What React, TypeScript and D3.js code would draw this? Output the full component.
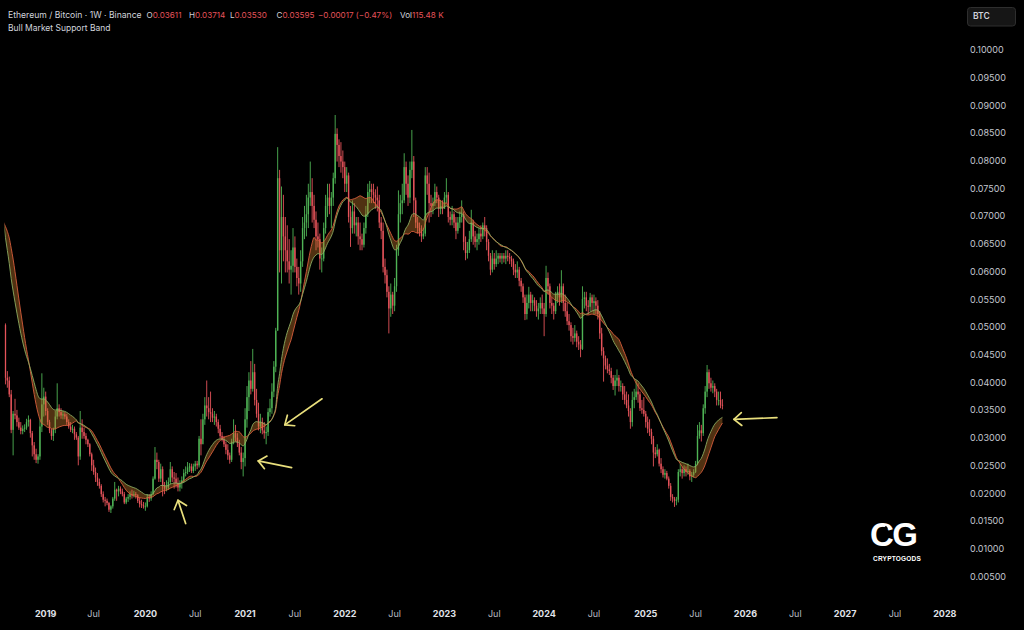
import React from 'react';
import * as d3 from 'd3';

// ---------- DATA ----------
// Weekly closes before the first drawn candle (weeks from 2018-01-01), used only for the band
const preCloses = [
  0.0790, 0.0950, 0.0935, 0.0970, 0.1010, 0.0975, 0.0915, 0.0855, 0.0800, 0.0760,
  0.0650, 0.0600, 0.0570, 0.0580, 0.0620, 0.0680, 0.0740, 0.0800, 0.0820, 0.0810,
  0.0790, 0.0780, 0.0775, 0.0750, 0.0720, 0.0725, 0.0710, 0.0680, 0.0630, 0.0575,
  0.0555, 0.0505,
];
const PRE_START = '2018-01-01';

// Weekly candles [high, low, close]; open = previous week's close. First candle: 2018-08-13
const w2018 = [
  [.0508,.0398,.0410],[.0422,.0392,.0405],[.0412,.0375,.0380],[.0388,.0310,.0316],[.0350,.0270,.0345],
  [.0372,.0335,.0342],[.0352,.0322,.0330],[.0338,.0316,.0320],[.0330,.0308,.0314],[.0324,.0308,.0318],
  [.0326,.0312,.0320],[.0336,.0316,.0330],[.0342,.0322,.0334],[.0336,.0302,.0310],[.0314,.0268,.0288],
  [.0294,.0262,.0272],[.0282,.0256,.0262],[.0272,.0255,.0268],[.0335,.0262,.0322],[.0418,.0312,.0362],
  [.0392,.0340,.0376],
];
const w2019 = [
  [.0385,.0342,.0350],[.0355,.0325,.0330],[.0334,.0310,.0315],[.0318,.0298,.0305],[.0320,.0296,.0318],
  [.0350,.0310,.0340],[.0400,.0335,.0355],[.0362,.0340,.0348],[.0355,.0336,.0342],[.0350,.0335,.0344],
  [.0348,.0335,.0340],[.0345,.0325,.0330],[.0335,.0318,.0322],[.0330,.0312,.0316],[.0325,.0310,.0318],
  [.0322,.0298,.0308],[.0312,.0298,.0302],[.0305,.0252,.0268],[.0350,.0262,.0320],[.0335,.0300,.0312],
  [.0320,.0300,.0305],[.0310,.0290,.0298],[.0300,.0285,.0290],[.0292,.0268,.0272],[.0275,.0242,.0252],
  [.0262,.0235,.0240],[.0248,.0222,.0230],[.0238,.0215,.0222],[.0228,.0210,.0215],[.0218,.0195,.0200],
  [.0205,.0185,.0190],[.0195,.0178,.0188],[.0192,.0180,.0184],[.0186,.0168,.0172],[.0180,.0166,.0178],
  [.0195,.0174,.0192],[.0222,.0188,.0208],[.0210,.0188,.0205],[.0215,.0196,.0210],[.0214,.0200,.0205],
  [.0210,.0196,.0200],[.0204,.0182,.0185],[.0195,.0182,.0192],[.0200,.0186,.0195],[.0205,.0190,.0200],
  [.0208,.0192,.0198],[.0206,.0194,.0200],[.0204,.0192,.0198],[.0200,.0184,.0188],[.0194,.0176,.0182],
  [.0190,.0175,.0180],[.0186,.0174,.0178],
];
const w2020 = [
  [.0185,.0170,.0178],[.0200,.0176,.0195],[.0200,.0186,.0192],[.0205,.0188,.0200],[.0232,.0198,.0228],
  [.0285,.0226,.0262],[.0275,.0245,.0258],[.0262,.0222,.0228],[.0255,.0222,.0245],[.0250,.0196,.0215],
  [.0222,.0200,.0210],[.0225,.0205,.0212],[.0230,.0208,.0222],[.0258,.0218,.0245],[.0250,.0222,.0230],
  [.0240,.0210,.0228],[.0238,.0212,.0220],[.0230,.0205,.0212],[.0225,.0205,.0220],[.0232,.0210,.0225],
  [.0245,.0220,.0238],[.0250,.0232,.0240],[.0258,.0236,.0248],[.0256,.0240,.0250],[.0255,.0238,.0242],
  [.0255,.0238,.0250],[.0260,.0242,.0255],[.0260,.0245,.0252],[.0305,.0248,.0300],[.0335,.0270,.0290],
  [.0345,.0300,.0335],[.0375,.0325,.0360],[.0405,.0340,.0355],[.0375,.0335,.0348],[.0385,.0330,.0345],
  [.0355,.0330,.0338],[.0350,.0325,.0340],[.0345,.0322,.0330],[.0335,.0310,.0318],[.0325,.0300,.0305],
  [.0312,.0295,.0298],[.0305,.0285,.0290],[.0295,.0272,.0280],[.0290,.0262,.0270],[.0275,.0255,.0262],
  [.0300,.0258,.0295],[.0335,.0290,.0310],[.0325,.0295,.0302],[.0310,.0285,.0292],[.0298,.0270,.0275],
  [.0285,.0245,.0258],[.0275,.0232,.0265],
];
const w2021 = [
  [.0355,.0250,.0335],[.0395,.0320,.0375],[.0420,.0350,.0405],[.0440,.0380,.0390],[.0462,.0385,.0420],
  [.0435,.0360,.0370],[.0390,.0338,.0345],[.0365,.0315,.0322],[.0345,.0310,.0330],[.0338,.0308,.0315],
  [.0330,.0300,.0310],[.0322,.0290,.0312],[.0355,.0305,.0348],[.0372,.0340,.0355],[.0400,.0345,.0385],
  [.0440,.0375,.0430],[.0500,.0420,.0495],[.0826,.0495,.0770],[.0785,.0600,.0640],[.0755,.0580,.0700],
  [.0740,.0620,.0665],[.0700,.0600,.0640],[.0685,.0600,.0620],[.0660,.0580,.0605],[.0640,.0560,.0612],
  [.0680,.0600,.0645],[.0665,.0600,.0610],[.0625,.0575,.0590],[.0610,.0560,.0580],[.0640,.0565,.0620],
  [.0700,.0610,.0680],[.0720,.0660,.0690],[.0740,.0665,.0705],[.0760,.0680,.0735],[.0800,.0720,.0745],
  [.0770,.0690,.0720],[.0740,.0680,.0695],[.0710,.0640,.0665],[.0690,.0645,.0660],[.0670,.0605,.0625],
  [.0645,.0600,.0625],[.0690,.0620,.0680],[.0740,.0670,.0720],[.0760,.0700,.0735],[.0760,.0705,.0720],
  [.0745,.0680,.0735],[.0780,.0720,.0770],[.0884,.0760,.0850],[.0860,.0800,.0830],[.0840,.0790,.0810],
  [.0835,.0780,.0800],[.0820,.0770,.0790],
];
const w2022 = [
  [.0800,.0745,.0760],[.0790,.0745,.0775],[.0780,.0690,.0700],[.0720,.0646,.0680],[.0730,.0670,.0710],
  [.0725,.0670,.0685],[.0700,.0665,.0690],[.0700,.0650,.0665],[.0690,.0640,.0660],[.0670,.0640,.0650],
  [.0690,.0645,.0680],[.0720,.0670,.0705],[.0760,.0700,.0745],[.0765,.0725,.0750],[.0760,.0725,.0745],
  [.0760,.0725,.0740],[.0750,.0715,.0735],[.0755,.0710,.0730],[.0740,.0680,.0690],[.0700,.0660,.0675],
  [.0690,.0600,.0610],[.0625,.0580,.0595],[.0605,.0555,.0565],[.0575,.0490,.0535],[.0580,.0520,.0560],
  [.0565,.0525,.0540],[.0590,.0530,.0575],[.0650,.0565,.0640],[.0748,.0630,.0705],[.0740,.0690,.0725],
  [.0760,.0705,.0730],[.0815,.0725,.0790],[.0800,.0740,.0760],[.0775,.0720,.0735],[.0800,.0725,.0785],
  [.0857,.0770,.0800],[.0810,.0700,.0730],[.0735,.0680,.0690],[.0700,.0670,.0680],[.0690,.0665,.0675],
  [.0685,.0655,.0665],[.0680,.0660,.0670],[.0790,.0665,.0775],[.0790,.0740,.0760],[.0780,.0690,.0725],
  [.0740,.0700,.0720],[.0735,.0705,.0725],[.0760,.0720,.0745],[.0755,.0725,.0735],[.0740,.0700,.0715],
  [.0730,.0705,.0720],[.0730,.0705,.0715],
];
const w2023 = [
  [.0745,.0715,.0735],[.0770,.0725,.0740],[.0745,.0690,.0700],[.0710,.0685,.0695],[.0720,.0685,.0705],
  [.0710,.0680,.0690],[.0700,.0660,.0675],[.0700,.0670,.0690],[.0710,.0680,.0700],[.0730,.0690,.0705],
  [.0710,.0640,.0655],[.0665,.0622,.0635],[.0655,.0625,.0640],[.0675,.0635,.0660],[.0713,.0655,.0690],
  [.0695,.0650,.0665],[.0675,.0645,.0655],[.0670,.0640,.0660],[.0680,.0650,.0670],[.0685,.0655,.0665],
  [.0690,.0660,.0685],[.0700,.0665,.0680],[.0685,.0640,.0655],[.0660,.0620,.0630],[.0635,.0595,.0605],
  [.0640,.0600,.0625],[.0635,.0605,.0615],[.0640,.0610,.0625],[.0635,.0615,.0630],[.0635,.0618,.0625],
  [.0635,.0615,.0630],[.0635,.0618,.0625],[.0640,.0615,.0630],[.0640,.0620,.0628],[.0635,.0615,.0625],
  [.0630,.0610,.0620],[.0625,.0595,.0605],[.0615,.0590,.0600],[.0620,.0590,.0605],[.0610,.0575,.0585],
  [.0590,.0565,.0575],[.0580,.0545,.0555],[.0560,.0514,.0525],[.0560,.0515,.0545],[.0574,.0535,.0560],
  [.0565,.0530,.0545],[.0560,.0530,.0550],[.0555,.0530,.0540],[.0550,.0520,.0530],[.0545,.0515,.0535],
  [.0555,.0525,.0545],[.0560,.0525,.0535],
];
const w2024 = [
  [.0545,.0485,.0525],[.0612,.0520,.0590],[.0600,.0560,.0575],[.0580,.0535,.0545],[.0555,.0525,.0540],
  [.0545,.0515,.0530],[.0565,.0525,.0560],[.0575,.0545,.0565],[.0580,.0540,.0555],[.0604,.0545,.0575],
  [.0580,.0530,.0545],[.0560,.0520,.0530],[.0545,.0505,.0512],[.0525,.0495,.0505],[.0510,.0475,.0485],
  [.0500,.0470,.0482],[.0505,.0475,.0490],[.0495,.0465,.0475],[.0485,.0460,.0470],[.0478,.0447,.0462],
  [.0575,.0460,.0552],[.0565,.0535,.0555],[.0565,.0530,.0540],[.0550,.0525,.0538],[.0563,.0530,.0555],
  [.0560,.0530,.0545],[.0560,.0525,.0548],[.0555,.0525,.0540],[.0550,.0515,.0525],[.0530,.0480,.0490],
  [.0500,.0450,.0458],[.0465,.0403,.0445],[.0450,.0425,.0432],[.0445,.0418,.0425],[.0435,.0415,.0422],
  [.0428,.0400,.0410],[.0415,.0388,.0395],[.0415,.0378,.0405],[.0425,.0395,.0410],[.0415,.0385,.0395],
  [.0405,.0385,.0395],[.0400,.0370,.0380],[.0395,.0362,.0370],[.0385,.0355,.0360],[.0380,.0340,.0350],
  [.0355,.0318,.0330],[.0385,.0322,.0370],[.0390,.0355,.0375],[.0405,.0370,.0385],[.0400,.0365,.0380],
  [.0385,.0350,.0355],[.0370,.0345,.0352],[.0375,.0340,.0345],
];
const w2025 = [
  [.0350,.0320,.0330],[.0340,.0310,.0318],[.0335,.0305,.0312],[.0318,.0290,.0300],[.0305,.0250,.0275],
  [.0285,.0265,.0272],[.0290,.0268,.0280],[.0282,.0250,.0255],[.0265,.0238,.0245],[.0250,.0230,.0235],
  [.0245,.0228,.0238],[.0242,.0225,.0228],[.0232,.0210,.0215],[.0220,.0188,.0195],[.0200,.0185,.0192],
  [.0195,.0177,.0188],[.0195,.0180,.0190],[.0245,.0185,.0240],[.0255,.0232,.0245],[.0250,.0228,.0238],
  [.0252,.0232,.0245],[.0250,.0232,.0240],[.0255,.0235,.0242],[.0245,.0225,.0232],[.0240,.0222,.0235],
  [.0245,.0230,.0240],[.0260,.0238,.0255],[.0325,.0252,.0305],[.0330,.0300,.0315],[.0325,.0295,.0310],
  [.0362,.0305,.0355],[.0395,.0345,.0385],[.0433,.0375,.0420],[.0425,.0390,.0400],[.0410,.0385,.0392],
  [.0405,.0382,.0395],[.0400,.0375,.0385],[.0390,.0360,.0370],[.0385,.0360,.0370],[.0385,.0355,.03612],
  [.03714,.03530,.03595],
];
const FIRST_CANDLE = '2018-08-13';

const yTickValues = [0.005, 0.01, 0.015, 0.02, 0.025, 0.03, 0.035, 0.04, 0.045, 0.05,
  0.055, 0.06, 0.065, 0.07, 0.075, 0.08, 0.085, 0.09, 0.095, 0.1];
const xTickDates = ['2019-01-07','2019-07-01','2020-01-06','2020-07-06','2021-01-04','2021-07-05',
  '2022-01-03','2022-07-04','2023-01-02','2023-07-03','2024-01-01','2024-07-01','2025-01-06',
  '2025-07-07','2026-01-05','2026-07-06','2027-01-04','2027-07-05','2028-01-03'];
const xTickLabels = ['2019','Jul','2020','Jul','2021','Jul','2022','Jul','2023','Jul','2024','Jul',
  '2025','Jul','2026','Jul','2027','Jul','2028'];

// annotation arrows: [date, value] of tip and tail
const arrowTips = [['2020-05-04', 0.0189], ['2021-02-21', 0.0260], ['2021-05-29', 0.0325], ['2025-11-24', 0.0335]];
const arrowTails = [['2020-06-01', 0.0147], ['2021-06-23', 0.0248], ['2021-10-12', 0.0372], ['2026-04-30', 0.0338]];

const headerTitle = 'Ethereum / Bitcoin · 1W · Binance';
const headerLabels = ['O', 'H', 'L', 'C'];
const headerValues = ['0.03611', '0.03714', '0.03530', '0.03595'];
const headerChg = '−0.00017 (−0.47%)';
const headerVol = '115.48 K';
const indicatorName = 'Bull Market Support Band';

// ---------- CHART ----------
const UP = '#4fb355';
const DOWN = '#e5535a';
const TXT = '#d1d4dc';
const FONT = 'Inter, "Noto Sans", sans-serif';

export default function App() {
  const WEEK = 7 * 24 * 3600 * 1000;
  const parse = (s: string) => new Date(s + 'T00:00:00Z');
  const x = d3.scaleUtc().domain([parse('2019-01-07'), parse('2028-01-03')]).range([45.7, 944.8]);
  const y = d3.scaleLinear().domain([0.005, 0.1]).range([577.3, 50.7]);

  const weeks = [...w2018, ...w2019, ...w2020, ...w2021, ...w2022, ...w2023, ...w2024, ...w2025];
  const closes = [...preCloses, ...weeks.map((w) => w[2])];
  const t0 = parse(PRE_START).getTime();
  const dates = closes.map((_, k) => new Date(t0 + k * WEEK));
  const c0 = parse(FIRST_CANDLE).getTime();

  const candles = weeks.map((w, j) => {
    const k = preCloses.length + j;
    return { date: new Date(c0 + j * WEEK), o: closes[k - 1], h: w[0], l: w[1], c: w[2] };
  });

  // Bull market support band: 20W SMA & 21W EMA
  const sma: (number | null)[] = closes.map((_, k) =>
    k >= 19 ? d3.mean(closes.slice(k - 19, k + 1))! : null);
  const alpha = 2 / 22;
  const ema: number[] = [];
  closes.forEach((c, k) => ema.push(k === 0 ? c : alpha * c + (1 - alpha) * ema[k - 1]));
  const band = closes.map((_, k) => ({ d: dates[k], s: sma[k], e: ema[k] }))
    .filter((p, k) => k >= preCloses.length - 2 && p.s != null);

  const area = d3.area<any>().x((p) => x(p.d)).y0((p) => y(p.s)).y1((p) => y(p.e)).curve(d3.curveMonotoneX);
  const lineS = d3.line<any>().x((p) => x(p.d)).y((p) => y(p.s)).curve(d3.curveMonotoneX);
  const lineE = d3.line<any>().x((p) => x(p.d)).y((p) => y(p.e)).curve(d3.curveMonotoneX);

  const arrows = arrowTips.map((tip, i) => {
    const tx = x(parse(tip[0] as string)), ty = y(tip[1] as number);
    const sx = x(parse(arrowTails[i][0] as string)), sy = y(arrowTails[i][1] as number);
    const ang = Math.atan2(sy - ty, sx - tx);
    const L = 10, a = 0.7;
    const p1 = [tx + L * Math.cos(ang + a), ty + L * Math.sin(ang + a)];
    const p2 = [tx + L * Math.cos(ang - a), ty + L * Math.sin(ang - a)];
    return { tx, ty, sx, sy, p1, p2 };
  });

  const headerX = [146.5, 189, 230, 276.5];
  const bw = 1.4;
  return (
    <div style={{ position: 'fixed', left: 0, top: 0, width: 1024, height: 630, background: '#000' }}>
      <svg width={1024} height={630} style={{ display: 'block', background: '#000' }}>
        <defs>
          <clipPath id="plot"><rect x={4.5} y={0} width={950} height={600} /></clipPath>
        </defs>
        <g clipPath="url(#plot)">
          {candles.map((d, i) => {
            const cx = x(d.date);
            const up = d.c >= d.o;
            const col = up ? UP : DOWN;
            const yt = y(Math.max(d.o, d.c)), yb = y(Math.min(d.o, d.c));
            return (
              <g key={i}>
                <line x1={cx} x2={cx} y1={y(d.h)} y2={y(d.l)} stroke={col} strokeWidth={0.9} />
                <rect x={cx - bw / 2} y={yt} width={bw} height={Math.max(0.8, yb - yt)} fill={col} />
              </g>
            );
          })}
          <path d={area(band)!} fill="#c97a2e" fillOpacity={0.4} />
          <path d={lineS(band)!} fill="none" stroke="#e0603f" strokeWidth={1} strokeOpacity={0.85} />
          <path d={lineE(band)!} fill="none" stroke="#8fb466" strokeWidth={1} strokeOpacity={0.85} />
        </g>

        {arrows.map((a, i) => (
          <g key={i} stroke="#e9df7c" strokeWidth={1.7} fill="none" strokeLinecap="round" strokeLinejoin="round">
            <line x1={a.sx} y1={a.sy} x2={a.tx} y2={a.ty} />
            <polyline points={`${a.p1[0]},${a.p1[1]} ${a.tx},${a.ty} ${a.p2[0]},${a.p2[1]}`} />
          </g>
        ))}

        {/* header */}
        <g fontFamily={FONT} fill={TXT}>
          <text x={8} y={16} fontSize={8.6} dominantBaseline="middle">{headerTitle}</text>
          {headerLabels.map((lab, i) => (
            <text key={lab} x={headerX[i]} y={16} fontSize={8.1} dominantBaseline="middle">
              {lab}<tspan fill={DOWN}>{headerValues[i]}</tspan>
            </text>
          ))}
          <text x={318} y={16} fontSize={8.1} dominantBaseline="middle" fill={DOWN}>{headerChg}</text>
          <text x={400} y={16} fontSize={8.1} dominantBaseline="middle">Vol<tspan fill={DOWN}>{headerVol}</tspan></text>
          <text x={8} y={28.5} fontSize={8.5} dominantBaseline="middle">{indicatorName}</text>
        </g>

        {/* BTC box */}
        <rect x={967.5} y={7.5} width={48} height={18.5} rx={3} fill="#161616" stroke="#2e2e2e" />
        <text x={973} y={17} fontFamily={FONT} fontSize={8.5} fontWeight={600} fill={TXT} dominantBaseline="middle">BTC</text>

        {/* y axis */}
        <g fontFamily={FONT} fontSize={9} fill="#c3c6ce">
          {yTickValues.map((v) => (
            <text key={v} x={970} y={y(v)} dominantBaseline="middle">{d3.format('.5f')(v)}</text>
          ))}
        </g>

        {/* x axis */}
        <g fontFamily={FONT} fontSize={9} textAnchor="middle">
          {xTickDates.map((s, i) => (
            <text key={s} x={x(parse(s))} y={615} dominantBaseline="middle"
              fontWeight={xTickLabels[i] === 'Jul' ? 400 : 700}
              fill={xTickLabels[i] === 'Jul' ? '#b8bbc3' : '#e0e3ea'}>{xTickLabels[i]}</text>
          ))}
        </g>

        {/* logo */}
        <g fill="#fff" fontFamily='"Liberation Sans", Arial, sans-serif' fontWeight={700}>
          <text x={870} y={546} fontSize={33} letterSpacing={-1.5}>CG</text>
          <line x1={880} y1={533} x2={887} y2={527} stroke="#000" strokeWidth={3} />
          <text x={897} y={561} fontSize={6.5} textAnchor="middle" letterSpacing={0.2}>CRYPTOGODS</text>
        </g>
      </svg>
    </div>
  );
}
